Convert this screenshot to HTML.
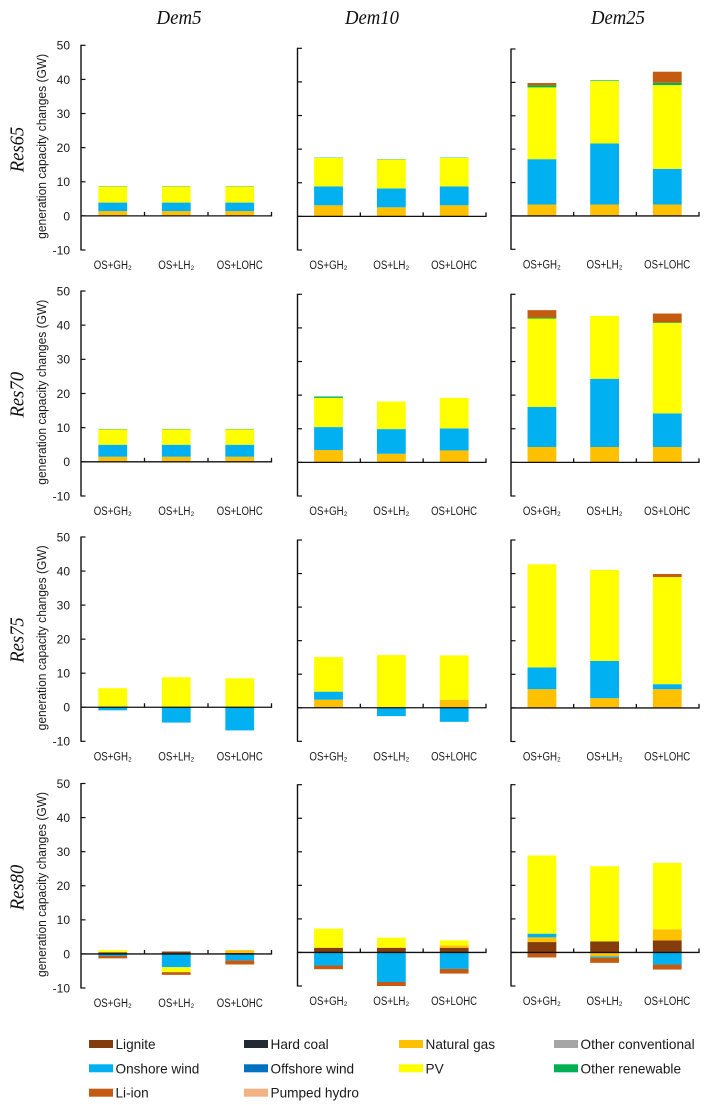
<!DOCTYPE html>
<html>
<head>
<meta charset="utf-8">
<title>Generation capacity changes</title>
<style>
html,body{margin:0;padding:0;background:#fff;width:709px;height:1105px;overflow:hidden}
svg{display:block}
text{font-family:"Liberation Sans",sans-serif;fill:#1a1a1a}
.head{font-family:"Liberation Serif",serif;font-style:italic;font-size:20px;fill:#111}
</style>
</head>
<body>
<svg id="chart" xmlns="http://www.w3.org/2000/svg" width="709" height="1105" viewBox="0 0 709 1105">
  <rect x="0" y="0" width="709" height="1105" fill="#fff"/>
  <text class="head" x="179" y="24" text-anchor="middle" textLength="45" lengthAdjust="spacingAndGlyphs">Dem5</text>
  <text class="head" x="372" y="24" text-anchor="middle" textLength="54" lengthAdjust="spacingAndGlyphs">Dem10</text>
  <text class="head" x="618" y="24" text-anchor="middle" textLength="54" lengthAdjust="spacingAndGlyphs">Dem25</text>
  <text class="head" transform="translate(23.5,149.5) rotate(-90)" text-anchor="middle" textLength="45.5" lengthAdjust="spacingAndGlyphs">Res65</text>
  <text class="head" transform="translate(23.5,394.7) rotate(-90)" text-anchor="middle" textLength="45.5" lengthAdjust="spacingAndGlyphs">Res70</text>
  <text class="head" transform="translate(23.5,640) rotate(-90)" text-anchor="middle" textLength="45.5" lengthAdjust="spacingAndGlyphs">Res75</text>
  <text class="head" transform="translate(23.5,887.5) rotate(-90)" text-anchor="middle" textLength="45.5" lengthAdjust="spacingAndGlyphs">Res80</text>
  <g id="plots"></g>
  <g id="legend"></g>
</svg>
<script>
// Categories and tick labels
const categories = ['OS+GH₂', 'OS+LH₂', 'OS+LOHC'];
const yTicks = [50, 40, 30, 20, 10, 0, -10];
// Series values: one row per Res scenario; each row holds Dem5, Dem10, Dem25 triples
const lignite = [
  0,0,0, 0,0,0, 0,0,0,
  0,0,0, 0,0,0, 0,0,0,
  0,0,0, 0,0,0, 0,0,0,
  0.5,0.7,0.3, 1.4,1.4,1.4, 3.1,3.3,3.6];
const hardCoal = [
  0,0,0, 0,0,0, 0,0,0,
  0,0,0, 0,0,0, 0,0,0,
  0,0,0, 0,0,0, 0,0,0,
  0,0,0, 0,0,0, 0,0,0];
const naturalGas = [
  1.4,1.4,1.4, 3.3,2.7,3.3, 3.4,3.4,3.4,
  1.5,1.5,1.5, 3.66,2.56,3.56, 4.58,4.58,4.58,
  0.3,0,0, 2.4,0,2.4, 5.57,2.9,5.57,
  0,0,0.8, 0,0,0.7, 1.4,-1.2,3.3];
const otherConventional = [
  0,0,0, 0,0,0, 0,0,0,
  0,0,0, 0,0,0, 0,0,0,
  0,0,0, 0,0,0, 0,0,0,
  0,0,0, 0,0,0, 0,0,0];
const onshoreWind = [
  2.5,2.5,2.5, 5.6,5.6,5.6, 13.6,18.3,10.7,
  3.5,3.5,3.5, 6.84,7.34,6.54, 11.9,20.3,10,
  -0.9,-4.5,-6.8, 2.4,-2.5,-4.2, 6.5,11.1,1.5,
  -0.6,-3.9,-1.9, -3.9,-8.8,-4.9, 1.1,-0.4,-3.6];
const offshoreWind = [
  0,0,0, 0,0,0, 0,0,0,
  0,0,0, 0,0,0, 0,0,0,
  0,0,0, 0,0,0, 0,0,0,
  0,0,0, 0,0,0, 0,0,0];
const pv = [
  4.7,4.7,4.7, 8.5,8.6,8.5, 21.5,18.7,25.1,
  4.5,4.5,4.5, 8.7,8.2,9.1, 26.3,18.7,26.9,
  5.3,8.8,8.5, 10.3,15.7,13.2, 30.7,27.1,31.9,
  0.6,-1.45,0, 5.7,3,1.5, 23.3,22.4,19.8];
const otherRenewable = [
  0.1,0.1,0.1, 0.1,0.1,0.1, 0.6,0.2,0.7,
  0.1,0.1,0.1, 0.4,0,0, 0.3,0,0.2,
  0,0,0, 0,0,0, 0,0,0,
  0,0,0, 0,0,0, 0,0,0];
const liIon = [
  0,0,0, 0,0,0, 0.7,0,3.3,
  0,0,0, 0,0,0, 2.2,0,2.6,
  0,0,0, 0,0,0, 0,0,0.9,
  -0.7,-0.8,-1.2, -1.1,-1.2,-1.4, -1.5,-1.5,-1.5];
const pumpedHydro = [
  0,0,0, 0,0,0, 0,0,0,
  0,0,0, 0,0,0, 0,0,0,
  0,0,0, 0,0,0, 0,0,0,
  0,0,0, 0,0,0, 0,0,0];
const seriesNames = ['Lignite','Hard coal','Natural gas','Other conventional','Onshore wind','Offshore wind','PV','Other renewable','Li-ion','Pumped hydro'];
const seriesValues = [lignite,hardCoal,naturalGas,otherConventional,onshoreWind,offshoreWind,pv,otherRenewable,liIon,pumpedHydro];
const seriesColors = ['#843C0C','#222B35','#FFC000','#A5A5A5','#00B0F0','#0070C0','#FFFF00','#00B050','#C55A11','#F4B183'];

const SVGNS = 'http://www.w3.org/2000/svg';
const plots = document.getElementById('plots');
const legend = document.getElementById('legend');

function make(tag, attrs, parent) {
  const el = document.createElementNS(SVGNS, tag);
  for (const k in attrs) el.setAttribute(k, attrs[k]);
  parent.appendChild(el);
  return el;
}

// Frame geometry of each panel
function panelFrame(row, col) {
  const tops = [
    [45.3, 48.3, 49],
    [291, 294.3, 294.3],
    [537, 540, 540],
    [783.5, 784.7, 784.7]
  ];
  const bottoms = [
    [250, 250, 249.3],
    [496, 496, 496],
    [741.3, 741.3, 741.5],
    [988, 986, 986]
  ];
  const left = [81, 297.5, 511];
  const right = [271.5, 486, 699];
  return {
    top: tops[row][col],
    bottom: bottoms[row][col],
    left: left[col],
    right: right[col]
  };
}

function yScale(frame) {
  return v => frame.top + (50 - v) * (frame.bottom - frame.top) / 60;
}
function xBand(frame, i) {
  const step = (frame.right - frame.left) / categories.length;
  return frame.left + step * i;
}

function drawPanel(row, col) {
  const frame = panelFrame(row, col);
  const y = yScale(frame);
  const g = make('g', {}, plots);
  
  
  const step = (frame.right - frame.left) / categories.length;
  const labelWidths = [38, 36, 46];

  categories.forEach((cat, c) => {
    const idx = row * 9 + col * 3 + c;
    const bw = 28.8;
    const bc = xBand(frame, c) + step / 2 + (col === 0 ? 0 : -0.4);
    const bx = bc - bw / 2;
    let up = 0, down = 0;
    seriesValues.forEach((vals, s) => {
      const v = vals[idx];
      if (!v) return;
      let a, b;
      if (v > 0) { a = up; b = up + v; up = b; }
      else { a = down; b = down + v; down = b; }
      const r = make('rect', {
        x: bx, y: Math.min(y(a), y(b)), width: bw,
        height: Math.abs(y(a) - y(b)), fill: seriesColors[s]
      }, g);
      
      
    });
    const lab = make('text', {
      x: xBand(frame, c) + step / 2 + (col === 0 ? 0 : -0.5),
      y: frame.bottom + 19.2,
      'text-anchor': 'middle',
      'font-size': '11.5',
      textLength: labelWidths[c],
      lengthAdjust: 'spacingAndGlyphs'
    }, g);
    
    
    lab.textContent = cat;
    const tk = make('line', {
      x1: xBand(frame, c + 1), x2: xBand(frame, c + 1),
      y1: y(0), y2: y(0) - 4, stroke: '#111', 'stroke-width': 1.3
    }, g);
    
    
  });

  const yAxis = make('line', {
    x1: frame.left, x2: frame.left, y1: frame.top - 0.5, y2: frame.bottom + 0.5,
    stroke: '#111', 'stroke-width': 1.4
  }, g);
  
  

  const xAxis = make('line', {
    x1: frame.left, x2: frame.right + 0.6, y1: y(0), y2: y(0),
    stroke: '#111', 'stroke-width': 1.3
  }, g);
  
  

  yTicks.forEach(t => {
    const tick = make('line', {
      x1: frame.left, x2: frame.left + 4.5, y1: y(t), y2: y(t),
      stroke: '#111', 'stroke-width': 1.2
    }, g);
    
    
    if (col === 0) {
      const lab = make('text', {
        x: frame.left - 11, y: y(t) + 4.4, 'text-anchor': 'end', 'font-size': '12'
      }, g);
      
      
      lab.textContent = String(t);
    }
  });

  if (col === 0) {
    const cy = (frame.top + frame.bottom) / 2 - 1.3;
    const title = make('text', {
      transform: 'translate(46,' + cy + ') rotate(-90)',
      'text-anchor': 'middle', 'font-size': '12.5', textLength: '185',
      lengthAdjust: 'spacingAndGlyphs'
    }, g);
    
    
    title.textContent = 'generation capacity changes (GW)';
  }
}

for (let r = 0; r < 4; r++) for (let c = 0; c < 3; c++) drawPanel(r, c);

function drawLegend() {
  const xs = [89, 244, 399, 554];
  const ys = [1044, 1068.3, 1092.7];
  seriesNames.forEach((name, i) => {
    const col = i % 4, rw = Math.floor(i / 4);
    const g = make('g', {}, legend);
    
    
    const sw = make('rect', {
      x: xs[col], y: ys[rw] - 4, width: 24, height: 8, fill: seriesColors[i]
    }, g);
    
    
    const t = make('text', {
      x: xs[col] + 26.5, y: ys[rw] + 5, 'font-size': '13.6'
    }, g);
    
    
    t.textContent = name;
  });
}
drawLegend();
</script>
</body>
</html>
